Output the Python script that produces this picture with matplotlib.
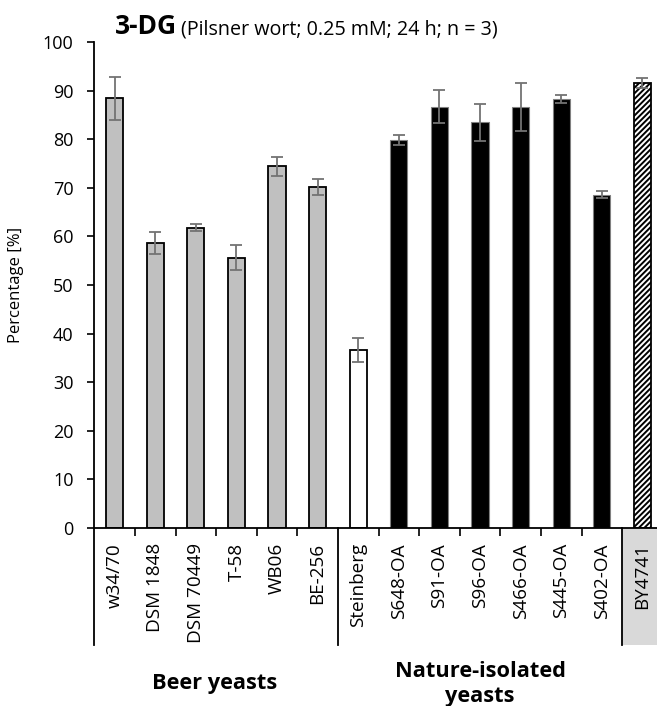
"""3-DG degradation in Pilsner wort -- bar chart with grouped category table underneath."""
import matplotlib
matplotlib.use("Agg")
import matplotlib.pyplot as plt
from matplotlib.patches import Rectangle

plt.rcParams["font.family"] = ["Open Sans", "DejaVu Sans"]
plt.rcParams["hatch.linewidth"] = 1.4

strains = ["w34/70", "DSM 1848", "DSM 70449", "T-58", "WB06", "BE-256",
           "Steinberg", "S648-OA", "S91-OA", "S96-OA", "S466-OA", "S445-OA", "S402-OA",
           "BY4741"]
kind = ["beer"] * 6 + ["ref"] + ["nature"] * 6 + ["lab"]
pct = [88.4, 58.6, 61.8, 55.6, 74.4, 70.2,
       36.6, 79.8, 86.7, 83.5, 86.7, 88.3, 68.6,
       91.6]
sd = [4.5, 2.3, 0.7, 2.6, 2.0, 1.6,
      2.4, 1.0, 3.4, 3.8, 4.9, 0.9, 0.7,
      1.1]

STYLE = {
    "beer": dict(color="#c0c0c0", edgecolor="black", linewidth=1.3),
    "ref": dict(color="white", edgecolor="black", linewidth=1.3),
    "nature": dict(color="black", edgecolor="#808080", linewidth=0.8),
    "lab": dict(color="white", edgecolor="black", linewidth=1.3, hatch="//////"),
}

W, H = 657, 706
fig = plt.figure(figsize=(W / 100, H / 100), dpi=100)
# axes in pixel terms: y=0 at 527.9 px, y=100 at 42.1 px, left spine at 94.3 px
ax = fig.add_axes([94.3 / W, (H - 527.9) / H, (W - 94.3) / W, (527.9 - 42.1) / H])
cat_w = 40.6  # px per category
ax.set_xlim(-0.5, -0.5 + (W - 94.3) / cat_w)
ax.set_ylim(0, 100)

xs = list(range(len(strains)))
for x, v, k in zip(xs, pct, kind):
    ax.bar(x, v, width=0.42, zorder=2, **STYLE[k])
ax.errorbar(xs, pct, yerr=sd, fmt="none", ecolor="#737373", elinewidth=1.3,
            capsize=4, capthick=1.3, zorder=3)

for s in ("top", "right"):
    ax.spines[s].set_visible(False)
ax.spines["left"].set_linewidth(1.3)
ax.spines["bottom"].set_linewidth(1.3)

ax.set_yticks(range(0, 101, 10))
ax.tick_params(axis="y", length=5, width=1.2, pad=10, labelsize=13)
ax.set_ylabel("Percentage [%]", fontsize=12)
ax.yaxis.set_label_coords(-(94.3 - 24) / (W - 94.3), 0.5)

# category labels (major, no marks) + small boundary marks (minor)
ax.set_xticks(xs)
ax.set_xticklabels(strains, rotation=90, va="top", fontsize=13.6)
ax.tick_params(axis="x", which="major", length=0, pad=11)
group_edges = [-0.5, 5.5, 12.5]
ax.set_xticks([i + 0.5 for i in range(12) if i + 0.5 not in group_edges], minor=True)
ax.tick_params(axis="x", which="minor", length=6, width=1.2, direction="out")

# table below the axis: long separators and shaded lab-strain cell
tr = ax.get_xaxis_transform()
ax_h = 527.9 - 42.1
table_bot = -(645 - 527.9) / ax_h
ax.add_patch(Rectangle((12.5, table_bot), 2.0, -table_bot, transform=tr,
                       facecolor="#d9d9d9", edgecolor="none", clip_on=False, zorder=0))
for e in group_edges:
    ax.plot([e, e], [0, table_bot], transform=tr, color="black", lw=1.3, clip_on=False)

ax.text(2.47, -(683 - 527.9) / ax_h, "Beer yeasts", transform=tr, ha="center",
        va="center", fontsize=15.7, fontweight="bold")
ax.text(9.0, -(684 - 527.9) / ax_h, "Nature-isolated\nyeasts", transform=tr, ha="center",
        va="center", fontsize=15.7, fontweight="bold", linespacing=1.2)

fig.text(115 / W, (H - 34) / H, "3-DG", fontsize=19, fontweight="bold", va="baseline")
fig.text(181 / W, (H - 34) / H, "(Pilsner wort; 0.25 mM; 24 h; n = 3)", fontsize=14.2,
         va="baseline")

fig.savefig("out.png", dpi=100)
